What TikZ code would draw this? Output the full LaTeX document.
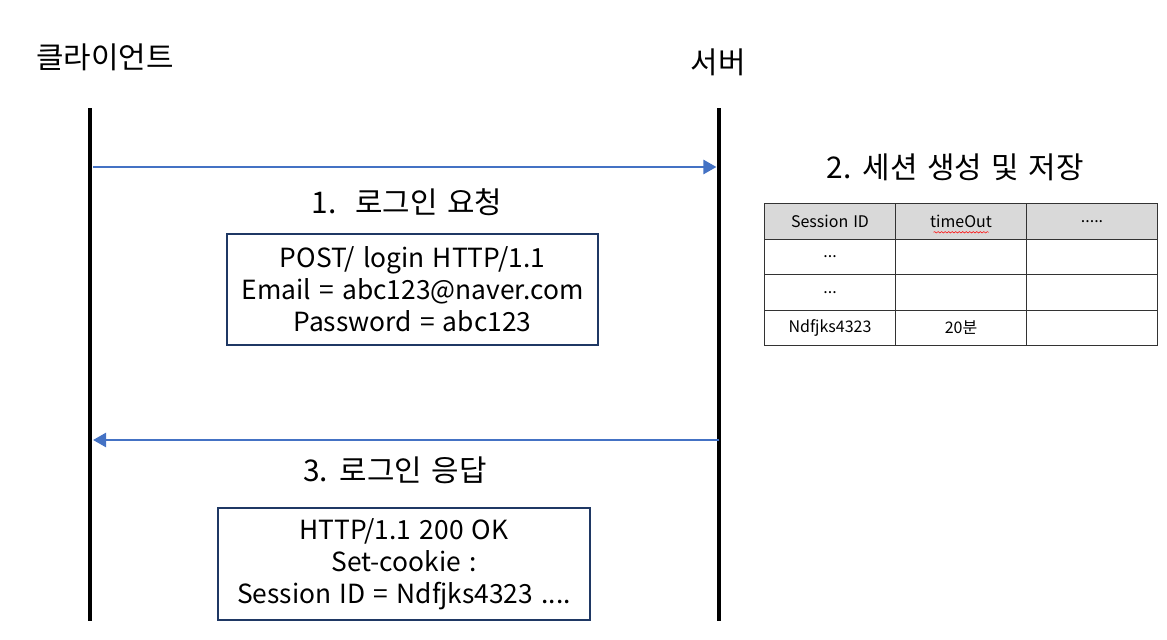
\documentclass[tikz,border=0pt]{standalone}
\usepackage{fontspec}
\setmainfont{Noto Sans CJK KR}[WordSpace=1.4]
\usetikzlibrary{arrows.meta,decorations.pathmorphing}

\definecolor{msgblue}{HTML}{4472C4}
\definecolor{boxnavy}{HTML}{1F3864}
\definecolor{headgray}{HTML}{D9D9D9}

\newcommand{\tresp}{...}
\newcommand{\cincop}{.....}

\begin{document}
\begin{tikzpicture}[
	lifeline/.style={line width=2.8pt, black},
	msg/.style={line width=1.6pt, msgblue, -{Triangle[length=7.5pt,width=8pt]}},
	title/.style={font=\fontsize{17}{20}\selectfont},
	msgbox/.style={draw=boxnavy, line width=1.1pt, align=center, inner sep=0pt,
		font=\fontsize{15}{18.2}\selectfont},
	cell/.style={draw=black!80, line width=0.6pt, minimum width=2.62cm, minimum height=0.71cm,
		inner sep=0pt, font=\fontsize{9.1}{10}\selectfont}
	]
	
	\useasboundingbox (0,0) rectangle (23.34,-12.78);
	
	% Titulos
	\node[title] (cliente) at (2.1,-1.14) {클라이언트};
	\node[title] (servidor) at (14.36,-1.24) {서버};
	
	% Lineas de vida
	\coordinate (clitop) at (1.8,-2.16);
	\coordinate (clibot) at (1.8,-12.42);
	\coordinate (srvtop) at (14.38,-2.16);
	\coordinate (srvbot) at (14.38,-12.42);
	\draw[lifeline] (clitop) -- (clibot);
	\draw[lifeline] (srvtop) -- (srvbot);
	
	% Peticion
	\coordinate (req1) at (1.86,-3.34);
	\coordinate (req2) at (14.33,-3.34);
	\draw[msg] (req1) -- (req2);
	\node[title] (lblreq) at (8.14,-4.04) {1.~~로그인 요청};
	\node[msgbox, minimum width=7.42cm, minimum height=2.22cm] (boxreq) at (8.25,-5.79)
	{POST/ login HTTP/1.1\\ Email = abc123@naver.com\\ Password = abc123};
	
	% Respuesta
	\coordinate (res1) at (14.38,-8.8);
	\coordinate (res2) at (1.86,-8.8);
	\draw[msg] (res1) -- (res2);
	\node[title] (lblres) at (7.9,-9.4) {3. 로그인 응답};
	\node[msgbox, minimum width=7.44cm, minimum height=2.24cm] (boxres) at (8.08,-11.28)
	{HTTP/1.1 200 OK\\ Set-cookie :\\ Session ID = Ndfjks4323 ....};
	
	% Sesion
	\node[title] (lblses) at (19.1,-3.34) {2. 세션 생성 및 저장};
	
	% Tabla
	\foreach \c/\txt in {0/Session ID, 1/timeOut, 2/\cincop}
	\node[cell, fill=headgray, anchor=north west] (h\c) at (15.28+2.62*\c,-4.06) {\txt};
	\foreach \r/\a/\b in {1/\tresp/{}, 2/\tresp/{}, 3/Ndfjks4323/20분}
	{
		\node[cell, anchor=north west] (r\r c0) at (15.28,-4.06-0.71*\r) {\a};
		\node[cell, anchor=north west] (r\r c1) at (17.9,-4.06-0.71*\r) {\b};
		\node[cell, anchor=north west] (r\r c2) at (20.52,-4.06-0.71*\r) {};
	}
	
	% Subrayado
	\draw[red, line width=0.3pt, decorate, decoration={snake, amplitude=0.4pt, segment length=2pt}]
	([xshift=-0.55cm,yshift=-0.22cm]h1.center) -- ([xshift=0.55cm,yshift=-0.22cm]h1.center);
	
\end{tikzpicture}
\end{document}
